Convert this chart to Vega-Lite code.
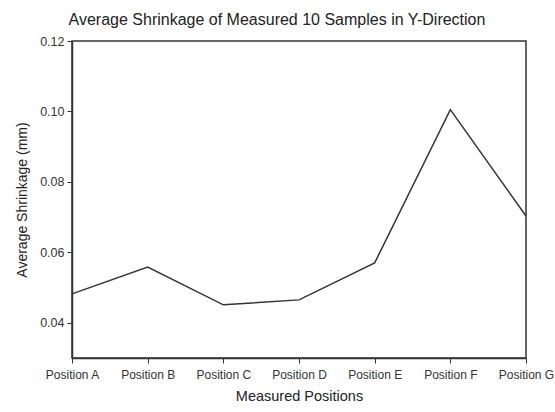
{
  "$schema": "https://vega.github.io/schema/vega-lite/v6.json",
  "autosize": {"type": "none"},
  "width": 454,
  "height": 317,
  "padding": {"left": 72, "top": 41, "right": 29, "bottom": 54},
  "background": "white",
  "title": {
    "text": "Average Shrinkage of Measured 10 Samples in Y-Direction",
    "font": "Liberation Sans",
    "fontSize": 16,
    "fontWeight": "normal",
    "color": "#222",
    "anchor": "middle",
    "dx": -22,
    "offset": 7
  },
  "config": {
    "view": {"stroke": "#333", "strokeWidth": 1.5},
    "axis": {
      "labelFont": "Liberation Sans",
      "titleFont": "Liberation Sans",
      "labelColor": "#333",
      "titleColor": "#222",
      "titleFontWeight": "normal",
      "domainColor": "#333",
      "tickColor": "#333",
      "grid": false
    }
  },
  "data": {
    "values": [
      {"position": "Position A", "shrinkage": 0.0482},
      {"position": "Position B", "shrinkage": 0.0558},
      {"position": "Position C", "shrinkage": 0.0451},
      {"position": "Position D", "shrinkage": 0.0465},
      {"position": "Position E", "shrinkage": 0.0570},
      {"position": "Position F", "shrinkage": 0.1005},
      {"position": "Position G", "shrinkage": 0.0703}
    ]
  },
  "mark": {"type": "line", "color": "#333", "strokeWidth": 1.5},
  "encoding": {
    "x": {
      "field": "position",
      "type": "ordinal",
      "scale": {"type": "point", "padding": 0},
      "axis": {
        "title": "Measured Positions",
        "labelAngle": 0,
        "labelFontSize": 12,
        "titleFontSize": 14.5,
        "tickSize": 5,
        "labelPadding": 6,
        "titlePadding": 9,
        "domainWidth": 1.5
      }
    },
    "y": {
      "field": "shrinkage",
      "type": "quantitative",
      "scale": {"domain": [0.03, 0.12], "nice": false, "zero": false},
      "axis": {
        "title": "Average Shrinkage (mm)",
        "values": [0.04, 0.06, 0.08, 0.10, 0.12],
        "format": ".2f",
        "labelFontSize": 12.5,
        "titleFontSize": 14,
        "tickSize": 5,
        "labelPadding": 3,
        "titlePadding": 10,
        "domainWidth": 1.5
      }
    }
  }
}
